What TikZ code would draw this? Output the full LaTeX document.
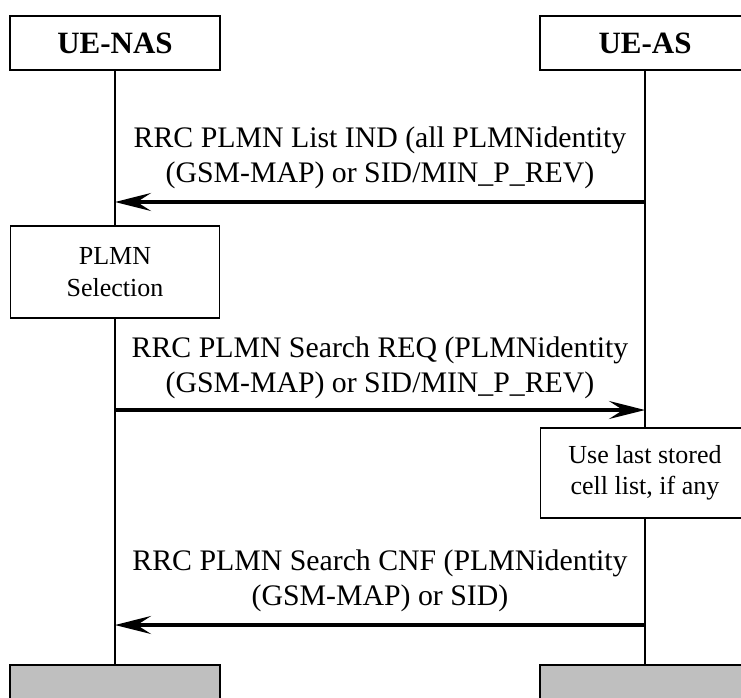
\documentclass[tikz,border=0pt]{standalone}
\usepackage{fontspec}
\setmainfont{Liberation Serif}
\usetikzlibrary{arrows.meta}
\begin{document}
\begin{tikzpicture}[x=1pt,y=-1pt,
  ent/.style={draw,line width=1.5pt,minimum width=210pt,minimum height=54pt,inner sep=0pt,font=\fontsize{31}{36}\selectfont\bfseries},
  proc/.style={draw,line width=1.5pt,minimum width=209pt,inner sep=0pt,align=center,font=\fontsize{26}{31.5}\selectfont},
  endbox/.style={draw,line width=1.5pt,fill=gray!50,minimum width=210pt,minimum height=60pt,inner sep=0pt},
  life/.style={line width=1.5pt},
  msg/.style={line width=4pt,-{Stealth[length=36pt,width=18pt,inset=14pt]}},
  lbl/.style={align=center,inner sep=0pt,font=\fontsize{29.8}{35}\selectfont}]
\useasboundingbox (0,0) rectangle (741,697);
\clip (0,0) rectangle (741,697);
\node[ent] (nas) at (115,43) {UE-NAS};
\node[ent] (as) at (645,43) {UE-AS};
\node[proc,minimum height=92pt] (sel) at (115,272) {PLMN\\Selection};
\node[proc,minimum height=90pt] (use) at (645,473) {Use last stored\\cell list, if any};
\node[endbox] (nasend) at (115,695) {};
\node[endbox] (asend) at (645,695) {};
\draw[life] (nas.south) -- (sel.north);
\draw[life] (sel.south) -- (nasend.north);
\draw[life] (as.south) -- (use.north);
\draw[life] (use.south) -- (asend.north);
\coordinate (m1r) at (645,202);
\coordinate (m1l) at (115,202);
\coordinate (m2l) at (115,410);
\coordinate (m2r) at (645,410);
\coordinate (m3r) at (645,625);
\coordinate (m3l) at (115,625);
\draw[msg] (m1r) -- (m1l);
\draw[msg] (m2l) -- (m2r);
\draw[msg] (m3r) -- (m3l);
\node[lbl] (l1) at (380,158) {RRC PLMN List IND (all PLMNidentity\\(GSM-MAP) or SID/MIN\_P\_REV)};
\node[lbl] (l2) at (380,368) {RRC PLMN Search REQ (PLMNidentity\\(GSM-MAP) or SID/MIN\_P\_REV)};
\node[lbl] (l3) at (380,581) {RRC PLMN Search CNF (PLMNidentity\\(GSM-MAP) or SID)};
\end{tikzpicture}
\end{document}
